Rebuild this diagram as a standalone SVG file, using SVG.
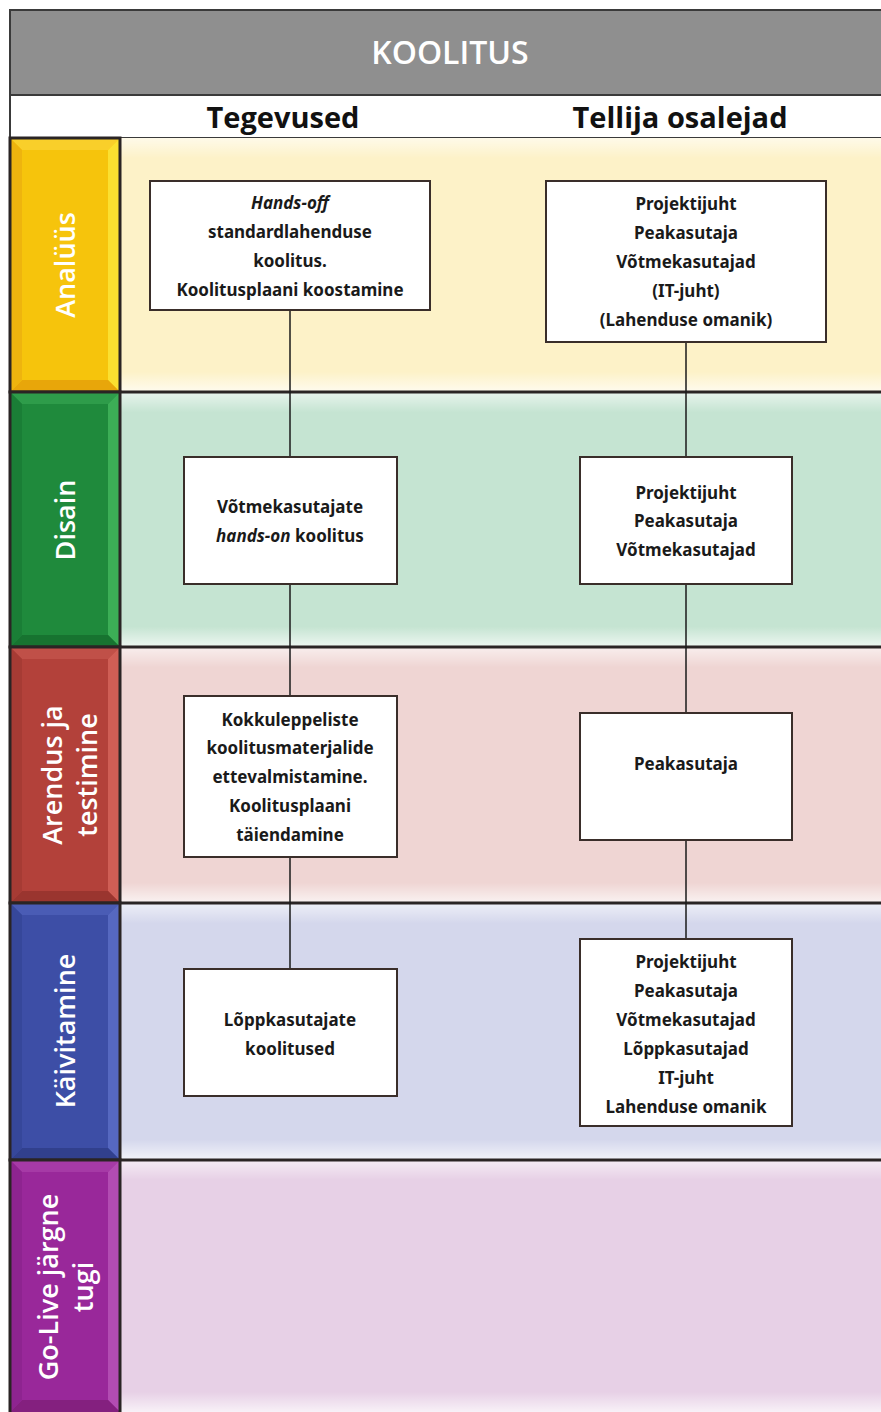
<svg xmlns="http://www.w3.org/2000/svg" width="881" height="1412" viewBox="0 0 881 1412">
<defs>
<style>
.box{fill:#fff;stroke:#3a2e2a;stroke-width:2}
.bt{font-family:"Noto Sans","Open Sans",sans-serif;font-weight:bold;font-size:17px;fill:#1a1a1a;text-anchor:middle}
.lb{font-family:"Open Sans","Noto Sans",sans-serif;font-weight:600;font-size:27px;fill:#fff;text-anchor:middle}
.sep{stroke:#2a2424;stroke-width:3}
.con{stroke:#1a1a1a;stroke-width:1.5;fill:none}
</style>
<linearGradient id="gv" x1="0" y1="0" x2="0" y2="1">
<stop offset="0" stop-color="#fff" stop-opacity="0.6"/>
<stop offset="0.08" stop-color="#fff" stop-opacity="0"/>
<stop offset="0.92" stop-color="#fff" stop-opacity="0"/>
<stop offset="1" stop-color="#fff" stop-opacity="0.7"/>
</linearGradient>
</defs>
<rect x="0" y="0" width="881" height="1412" fill="#fff"/>
<g id="header">
<rect x="10" y="10" width="875" height="85" fill="#8f8f8f" stroke="#3a3a3a" stroke-width="2"/>
<text x="450" y="64" font-family="'Open Sans','Noto Sans',sans-serif" font-weight="600" font-size="32" fill="#fff" text-anchor="middle">KOOLITUS</text>
<rect x="10" y="95" width="875" height="43" fill="#fff" stroke="#3a3a3a" stroke-width="2"/>
<text x="283" y="128" font-family="'Open Sans','Noto Sans',sans-serif" font-weight="bold" font-size="29" fill="#111" text-anchor="middle">Tegevused</text>
<text x="680" y="128" font-family="'Open Sans','Noto Sans',sans-serif" font-weight="bold" font-size="29" fill="#111" text-anchor="middle">Tellija osalejad</text>
</g>
<g id="band-analyys">
<rect x="120" y="138" width="761" height="254" fill="#fdf2c8"/>
<rect x="120" y="138" width="761" height="254" fill="url(#gv)"/>
<rect x="10" y="138" width="110" height="254" fill="#f6c40c"/>
<polygon points="10,138 120,138 108,150 22,150" fill="#f9cf2a"/>
<polygon points="108,150 120,138 120,392 108,380" fill="#fbe030"/>
<polygon points="10,392 120,392 108,380 22,380" fill="#e8a60a"/>
<polygon points="10,138 22,150 22,380 10,392" fill="#eeb40e"/>
<rect x="10" y="138" width="110" height="254" fill="none" stroke="#2a2424" stroke-width="3"/>
<text class="lb" transform="translate(75,265) rotate(-90)">Analüüs</text>
</g>
<g id="band-disain">
<rect x="120" y="392" width="761" height="255" fill="#c5e4d2"/>
<rect x="120" y="392" width="761" height="255" fill="url(#gv)"/>
<rect x="10" y="392" width="110" height="255" fill="#1f8a3c"/>
<polygon points="10,392 120,392 108,404 22,404" fill="#2e9c4a"/>
<polygon points="108,404 120,392 120,647 108,635" fill="#3cae56"/>
<polygon points="10,647 120,647 108,635 22,635" fill="#177330"/>
<polygon points="10,392 22,404 22,635 10,647" fill="#1a7e36"/>
<rect x="10" y="392" width="110" height="255" fill="none" stroke="#2a2424" stroke-width="3"/>
<text class="lb" transform="translate(75,520) rotate(-90)">Disain</text>
</g>
<g id="band-arendus">
<rect x="120" y="647" width="761" height="256" fill="#efd5d3"/>
<rect x="120" y="647" width="761" height="256" fill="url(#gv)"/>
<rect x="10" y="647" width="110" height="256" fill="#b3413a"/>
<polygon points="10,647 120,647 108,659 22,659" fill="#c05048"/>
<polygon points="108,659 120,647 120,903 108,891" fill="#cf5e55"/>
<polygon points="10,903 120,903 108,891 22,891" fill="#9a352f"/>
<polygon points="10,647 22,659 22,891 10,903" fill="#a63b34"/>
<rect x="10" y="647" width="110" height="256" fill="none" stroke="#2a2424" stroke-width="3"/>
<text class="lb" transform="translate(62,775) rotate(-90)">Arendus ja</text>
<text class="lb" transform="translate(97,775) rotate(-90)">testimine</text>
</g>
<g id="band-kaivitamine">
<rect x="120" y="903" width="761" height="257" fill="#d4d7ec"/>
<rect x="120" y="903" width="761" height="257" fill="url(#gv)"/>
<rect x="10" y="903" width="110" height="257" fill="#3d4ea6"/>
<polygon points="10,903 120,903 108,915 22,915" fill="#4a5cb5"/>
<polygon points="108,915 120,903 120,1160 108,1148" fill="#5668c0"/>
<polygon points="10,1160 120,1160 108,1148 22,1148" fill="#31408d"/>
<polygon points="10,903 22,915 22,1148 10,1160" fill="#36479a"/>
<rect x="10" y="903" width="110" height="257" fill="none" stroke="#2a2424" stroke-width="3"/>
<text class="lb" transform="translate(75,1031) rotate(-90)">Käivitamine</text>
</g>
<g id="band-golive">
<rect x="120" y="1160" width="761" height="252" fill="#e7d0e6"/>
<rect x="120" y="1160" width="761" height="252" fill="url(#gv)"/>
<rect x="10" y="1160" width="110" height="252" fill="#99289a"/>
<polygon points="10,1160 120,1160 108,1172 22,1172" fill="#a63aa6"/>
<polygon points="108,1172 120,1160 120,1412 108,1400" fill="#b24cb2"/>
<polygon points="10,1412 120,1412 108,1400 22,1400" fill="#84207f"/>
<polygon points="10,1160 22,1172 22,1400 10,1412" fill="#8e2490"/>
<rect x="10" y="1160" width="110" height="254" fill="none" stroke="#2a2424" stroke-width="3"/>
<text class="lb" transform="translate(58,1287) rotate(-90)">Go-Live järgne</text>
<text class="lb" transform="translate(93,1287) rotate(-90)">tugi</text>
</g>
<g id="separators">
<line class="sep" x1="120" y1="392" x2="881" y2="392"/>
<line class="sep" x1="120" y1="647" x2="881" y2="647"/>
<line class="sep" x1="120" y1="903" x2="881" y2="903"/>
<line class="sep" x1="120" y1="1160" x2="881" y2="1160"/>
</g>
<g id="connectors">
<line class="con" x1="290" y1="310" x2="290" y2="457"/>
<line class="con" x1="290" y1="584" x2="290" y2="696"/>
<line class="con" x1="290" y1="857" x2="290" y2="969"/>
<line class="con" x1="686" y1="342" x2="686" y2="457"/>
<line class="con" x1="686" y1="584" x2="686" y2="713"/>
<line class="con" x1="686" y1="840" x2="686" y2="939"/>
</g>
<g id="node-a1">
<rect class="box" x="150" y="181" width="280" height="129"/>
<text class="bt" x="290" y="209"><tspan font-style="italic">Hands-off</tspan></text>
<text class="bt" x="290" y="238">standardlahenduse</text>
<text class="bt" x="290" y="267">koolitus.</text>
<text class="bt" x="290" y="296">Koolitusplaani koostamine</text>
</g>
<g id="node-a2">
<rect class="box" x="546" y="181" width="280" height="161"/>
<text class="bt" x="686" y="210">Projektijuht</text>
<text class="bt" x="686" y="239">Peakasutaja</text>
<text class="bt" x="686" y="268">Võtmekasutajad</text>
<text class="bt" x="686" y="297">(IT-juht)</text>
<text class="bt" x="686" y="326">(Lahenduse omanik)</text>
</g>
<g id="node-d1">
<rect class="box" x="184" y="457" width="213" height="127"/>
<text class="bt" x="290" y="513">Võtmekasutajate</text>
<text class="bt" x="290" y="542"><tspan font-style="italic">hands-on</tspan> koolitus</text>
</g>
<g id="node-d2">
<rect class="box" x="580" y="457" width="212" height="127"/>
<text class="bt" x="686" y="499">Projektijuht</text>
<text class="bt" x="686" y="527">Peakasutaja</text>
<text class="bt" x="686" y="556">Võtmekasutajad</text>
</g>
<g id="node-r1">
<rect class="box" x="184" y="696" width="213" height="161"/>
<text class="bt" x="290" y="726">Kokkuleppeliste</text>
<text class="bt" x="290" y="754">koolitusmaterjalide</text>
<text class="bt" x="290" y="783">ettevalmistamine.</text>
<text class="bt" x="290" y="812">Koolitusplaani</text>
<text class="bt" x="290" y="841">täiendamine</text>
</g>
<g id="node-r2">
<rect class="box" x="580" y="713" width="212" height="127"/>
<text class="bt" x="686" y="770">Peakasutaja</text>
</g>
<g id="node-k1">
<rect class="box" x="184" y="969" width="213" height="127"/>
<text class="bt" x="290" y="1026">Lõppkasutajate</text>
<text class="bt" x="290" y="1055">koolitused</text>
</g>
<g id="node-k2">
<rect class="box" x="580" y="939" width="212" height="187"/>
<text class="bt" x="686" y="968">Projektijuht</text>
<text class="bt" x="686" y="997">Peakasutaja</text>
<text class="bt" x="686" y="1026">Võtmekasutajad</text>
<text class="bt" x="686" y="1055">Lõppkasutajad</text>
<text class="bt" x="686" y="1084">IT-juht</text>
<text class="bt" x="686" y="1113">Lahenduse omanik</text>
</g>
</svg>
